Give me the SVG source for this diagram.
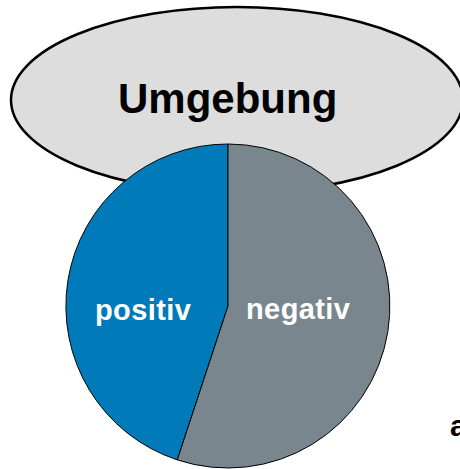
<svg xmlns="http://www.w3.org/2000/svg" width="460" height="469" viewBox="0 0 460 469">
<style>
.lbl{font-family:"Liberation Sans",Arial,sans-serif;font-weight:bold}
.w{fill:#ffffff;font-size:29px;letter-spacing:0.4px}
</style>
<rect width="460" height="469" fill="#ffffff"/>
<g id="umgebung">
<ellipse cx="237" cy="100" rx="226" ry="93" fill="#DDDDDD" stroke="#000000" stroke-width="2.5"/>
<text class="lbl" x="118" y="113" font-size="42" fill="#000000">Umgebung</text>
</g>
<g id="pie">
<g id="positiv">
<path d="M228,306 L228,144 A162,162 0 0 0 177.3,459.9 Z" fill="#007AB8" stroke="#000000" stroke-width="1"/>
<text class="lbl w" x="95" y="319.5">positiv</text>
</g>
<g id="negativ">
<path d="M228,306 L228,144 A162,162 0 1 1 177.3,459.9 Z" fill="#7A868E" stroke="#000000" stroke-width="1"/>
<text class="lbl w" x="246" y="318.5">negativ</text>
</g>
</g>
<text class="lbl" x="450" y="436" font-size="30" fill="#000000">a</text>
</svg>
